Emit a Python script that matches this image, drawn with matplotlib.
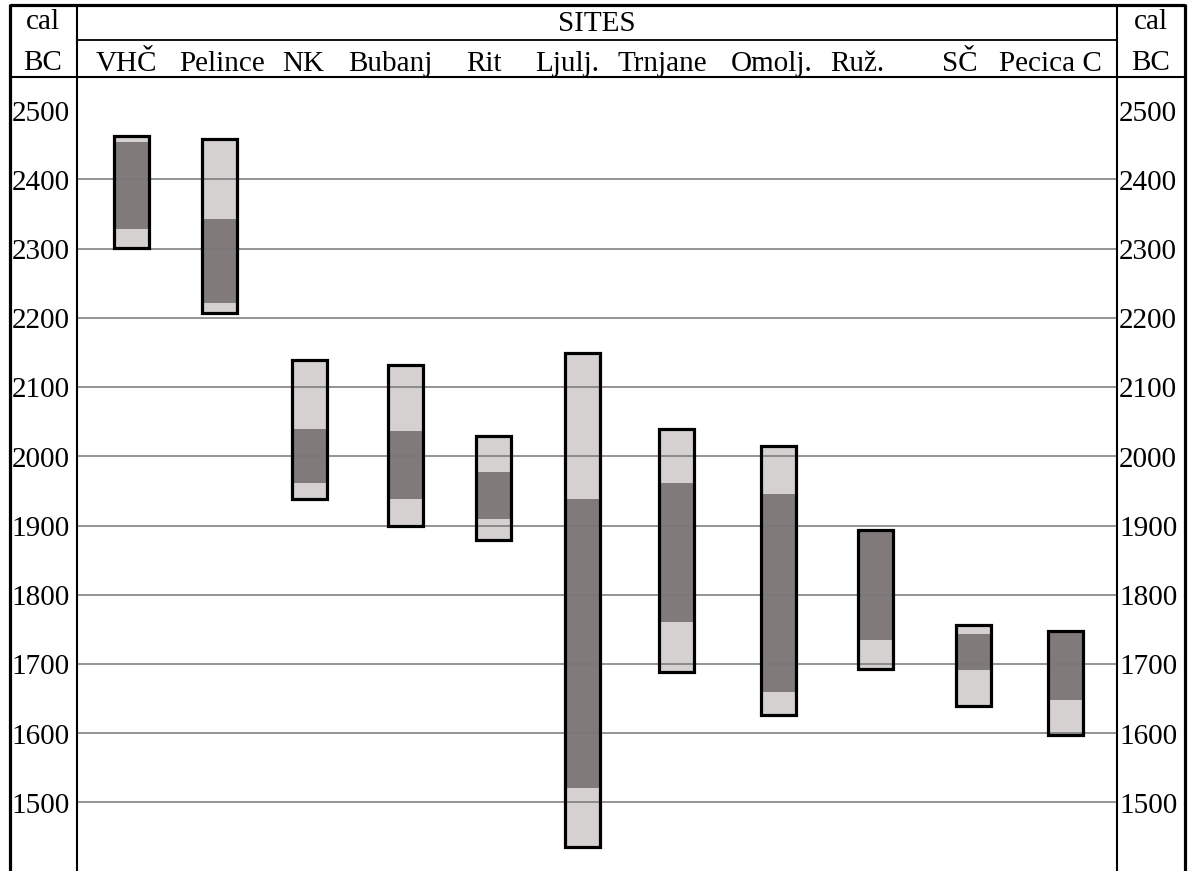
import matplotlib
matplotlib.use("Agg")
import matplotlib.pyplot as plt
from matplotlib.patches import Rectangle

plt.rcParams["font.family"] = ["Liberation Serif", "DejaVu Serif"]

# data: calibrated ranges (cal BC), outer = 95.4%, dark = 68.2%
SITES = ["VHČ", "Pelince", "NK", "Bubanj", "Rit", "Ljulj.",
         "Trnjane", "Omolj.", "Ruž.", "SČ", "Pecica C"]
outer_top = [2463, 2458, 2139, 2132, 2029, 2150, 2039, 2015, 1894, 1756, 1748]
outer_bottom = [2301, 2207, 1938, 1899, 1879, 1435, 1688, 1626, 1693, 1640, 1598]
dark_top = [2454, 2343, 2040, 2037, 1978, 1938, 1962, 1945, 1894, 1743, 1748]
dark_bottom = [2328, 2221, 1961, 1939, 1909, 1521, 1761, 1660, 1735, 1692, 1648]
YTICKS = [2500, 2400, 2300, 2200, 2100, 2000, 1900, 1800, 1700, 1600, 1500]
GRID = [2400, 2300, 2200, 2100, 2000, 1900, 1800, 1700, 1600, 1500]

# layout (pixel units of the 1190x871 canvas)
W, H = 1190, 871
BAR_X = [131, 219, 309, 405, 493, 582, 676, 778, 875, 973, 1065]
LABEL_X = [126, 222, 303, 390, 484, 567, 662, 772, 857, 960, 1050]
BAR_W = 35
LEFT, RIGHT, TOP = 77, 1117, 77

LIGHT = "#d6d1d1"
DARK = "#807b7a"
FS = 21


def main():
    fig = plt.figure(figsize=(W / 100, H / 100), dpi=100)

    ax = fig.add_axes([LEFT / W, 0, (RIGHT - LEFT) / W, (H - TOP) / H])
    ax.set_xlim(LEFT, RIGHT)
    ax.set_ylim(1401, 2548)
    ax.axis("off")

    for x, ot, ob, dt, db in zip(BAR_X, outer_top, outer_bottom, dark_top, dark_bottom):
        ax.add_patch(Rectangle((x - BAR_W / 2, ob), BAR_W, ot - ob,
                               facecolor=LIGHT, edgecolor="none", zorder=1))
        ax.add_patch(Rectangle((x - BAR_W / 2, db), BAR_W, dt - db,
                               facecolor=DARK, edgecolor="none", zorder=2))
        ax.add_patch(Rectangle((x - BAR_W / 2, ob), BAR_W, ot - ob,
                               facecolor="none", edgecolor="black", lw=2.3, zorder=4))

    ax.hlines(GRID, LEFT, RIGHT, colors="#777777", lw=1.1, zorder=3)

    for v in YTICKS:
        ax.annotate(str(v), (LEFT - 7, v), xytext=(0, -7.4), textcoords="offset points",
                    ha="right", va="baseline", fontsize=FS, annotation_clip=False)
        ax.annotate(str(v), (RIGHT + 2, v), xytext=(0, -7.4), textcoords="offset points",
                    ha="left", va="baseline", fontsize=FS, annotation_clip=False)

    # frame and header in pixel coordinates
    ov = fig.add_axes([0, 0, 1, 1], zorder=5)
    ov.set_xlim(0, W)
    ov.set_ylim(H, 0)
    ov.axis("off")
    ov.patch.set_alpha(0)

    k = dict(color="black", solid_capstyle="butt")
    ov.plot([10, 1185], [5, 5], lw=2.3, **k)
    ov.plot([10, 10], [4, H], lw=2.3, **k)
    ov.plot([1185, 1185], [4, H], lw=2.3, **k)
    ov.plot([LEFT, LEFT], [5, H], lw=1.5, **k)
    ov.plot([RIGHT, RIGHT], [5, H], lw=1.5, **k)
    ov.plot([LEFT, RIGHT], [40, 40], lw=1.3, **k)
    ov.plot([10, 1185], [77, 77], lw=1.5, **k)

    for cx in (43, 1151):
        ov.text(cx, 29, "cal", ha="center", va="baseline", fontsize=FS)
        ov.text(cx, 70, "BC", ha="center", va="baseline", fontsize=FS)
    ov.text((LEFT + RIGHT) / 2, 31, "SITES", ha="center", va="baseline", fontsize=FS)
    for lx, name in zip(LABEL_X, SITES):
        ov.text(lx, 71, name, ha="center", va="baseline", fontsize=FS)

    fig.savefig("out.png", dpi=100)


if __name__ == "__main__":
    main()
